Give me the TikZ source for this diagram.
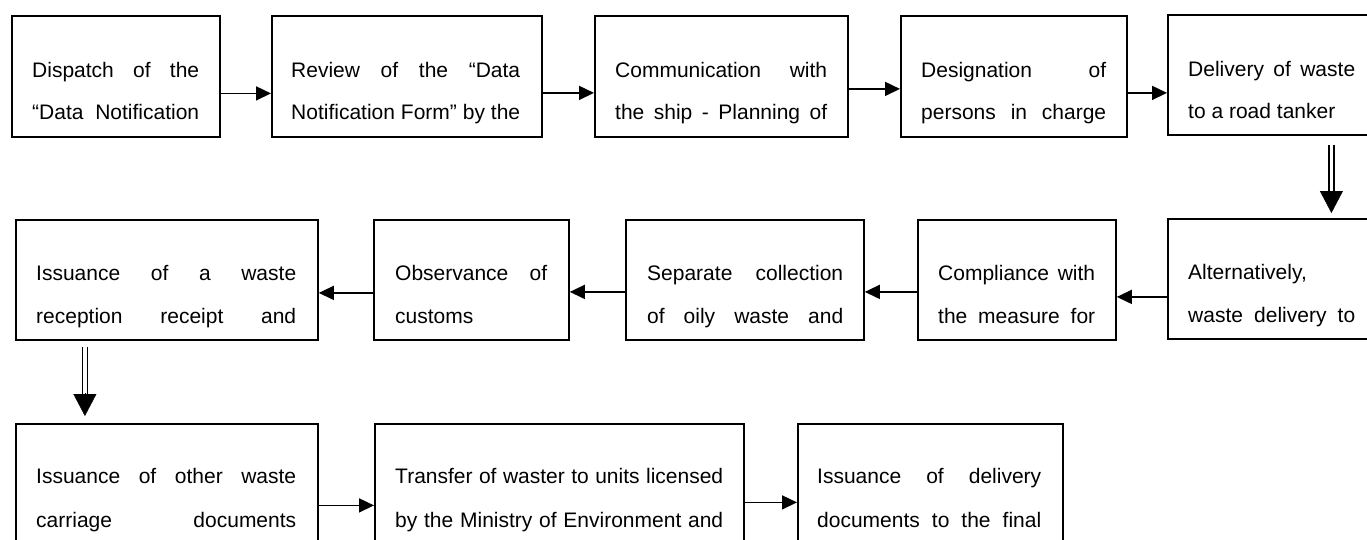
\documentclass[tikz,border=0pt]{standalone}
\usepackage{fontspec}
\setmainfont{Liberation Sans}
\usetikzlibrary{arrows.meta,calc}
\newcommand\jline[2]{\makebox[#1pt][s]{#2}}
\begin{document}
\begin{tikzpicture}[x=1pt,y=-1pt,
  box/.style={draw, line width=1.8pt, rectangle, inner sep=0pt, anchor=north west},
  txt/.style={inner sep=0pt, anchor=base west, font=\fontsize{21}{42}\selectfont},
  arr/.style={line width=1.6pt, -{Triangle[length=15pt,width=14pt]}},
  dshaft/.style={double, double distance=3.6pt, line width=1.3pt},
  dtip/.style={line width=0.4pt, -{Triangle[length=22pt,width=23pt]}}]
\useasboundingbox (0,0) rectangle (1367,539);
\clip (0,0) rectangle (1367,539);
% Row 1
\node[box, minimum width=208pt, minimum height=121pt] (n1) at (11,15) {};
\node[box, minimum width=270pt, minimum height=121pt] (n2) at (271,15) {};
\node[box, minimum width=253pt, minimum height=121pt] (n3) at (594,15) {};
\node[box, minimum width=226pt, minimum height=121pt] (n4) at (900,15) {};
\node[box, minimum width=210pt, minimum height=120pt] (n5) at (1167,14) {};
\node[txt] (t1a) at (32,77) {\jline{167}{Dispatch of the}};
\node[txt] (t1b) at (32,119) {\jline{167}{“Data Notification}};
\node[txt] (t2a) at (291,77) {\jline{229}{Review of the “Data}};
\node[txt] (t2b) at (291,119) {\jline{229}{Notification Form” by the}};
\node[txt] (t3a) at (615,77) {\jline{212}{Communication with}};
\node[txt] (t3b) at (615,119) {\jline{212}{the ship - Planning of}};
\node[txt] (t4a) at (921,77) {\jline{185}{Designation of}};
\node[txt] (t4b) at (921,119) {\jline{185}{persons in charge}};
\node[txt] (t5a) at (1188,76) {\jline{167}{Delivery of waste}};
\node[txt] (t5b) at (1188,118) {to a road tanker};
% Row 2
\node[box, minimum width=210pt, minimum height=120pt] (n6) at (1167,218) {};
\node[box, minimum width=198pt, minimum height=120pt] (n7) at (917,219) {};
\node[box, minimum width=238pt, minimum height=120pt] (n8) at (625,219) {};
\node[box, minimum width=195pt, minimum height=120pt] (n9) at (373,219) {};
\node[box, minimum width=302pt, minimum height=120pt] (n10) at (15,219) {};
\node[txt] (t6a) at (1188,279) {Alternatively,};
\node[txt] (t6b) at (1188,322) {\jline{167}{waste delivery to}};
\node[txt] (t7a) at (938,280) {\jline{157}{Compliance with}};
\node[txt] (t7b) at (938,323) {\jline{157}{the measure for}};
\node[txt] (t8a) at (647,280) {\jline{196}{Separate collection}};
\node[txt] (t8b) at (647,323) {\jline{196}{of oily waste and}};
\node[txt] (t9a) at (395,280) {\jline{152}{Observance of}};
\node[txt] (t9b) at (395,323) {customs};
\node[txt] (t10a) at (36,280) {\jline{260}{Issuance of a waste}};
\node[txt] (t10b) at (36,323) {\jline{260}{reception receipt and}};
% Row 3
\node[box, minimum width=302pt, minimum height=125pt] (n11) at (15,423) {};
\node[box, minimum width=369pt, minimum height=125pt] (n12) at (374,423) {};
\node[box, minimum width=265pt, minimum height=125pt] (n13) at (797,423) {};
\node[txt] (t11a) at (36,483) {\jline{260}{Issuance of other waste}};
\node[txt] (t11b) at (36,527) {\jline{260}{carriage documents}};
\node[txt] (t12a) at (395,483) {\jline{328}{Transfer of waster to units licensed}};
\node[txt] (t12b) at (395,527) {\jline{328}{by the Ministry of Environment and}};
\node[txt] (t13a) at (817,483) {\jline{224}{Issuance of delivery}};
\node[txt] (t13b) at (817,527) {\jline{224}{documents to the final}};
% Row 1 arrows
\path ([yshift=-17pt]n1.east) coordinate (a1);
\draw[arr] (a1) -- (a1 -| n2.west);
\path ([yshift=-16.5pt]n2.east) coordinate (a2);
\draw[arr] (a2) -- (a2 -| n3.west);
\path ([yshift=-12.5pt]n3.east) coordinate (a3);
\draw[arr] (a3) -- (a3 -| n4.west);
\path ([yshift=-16.5pt]n4.east) coordinate (a4);
\draw[arr] (a4) -- (a4 -| n5.west);
% double arrow n5 -> n6
\path ([xshift=58.5pt,yshift=-9pt]n5.south) coordinate (d1a);
\path ([xshift=58.5pt,yshift=5pt]n6.north) coordinate (d1b);
\draw[dshaft] (d1a) -- ([yshift=21pt]d1b);
\draw[dtip] ([yshift=22pt]d1b) -- (d1b);
% Row 2 arrows
\path ([yshift=-18pt]n6.west) coordinate (a6);
\draw[arr] (a6) -- (a6 -| n7.east);
\path ([yshift=-12pt]n7.west) coordinate (a7);
\draw[arr] (a7) -- (a7 -| n8.east);
\path ([yshift=-12pt]n8.west) coordinate (a8);
\draw[arr] (a8) -- (a8 -| n9.east);
\path ([yshift=-13pt]n9.west) coordinate (a9);
\draw[arr] (a9) -- (a9 -| n10.east);
% double arrow n10 -> n11
\path ([xshift=-82pt,yshift=-6pt]n10.south) coordinate (d2a);
\path ([xshift=-82pt,yshift=7pt]n11.north) coordinate (d2b);
\draw[dshaft] (d2a) -- ([yshift=22pt]d2b);
\draw[dtip] ([yshift=23pt]d2b) -- (d2b);
% Row 3 arrows
\path ([yshift=-19pt]n11.east) coordinate (a11);
\draw[arr] (a11) -- (a11 -| n12.west);
\path ([yshift=-16pt]n12.east) coordinate (a12);
\draw[arr] (a12) -- (a12 -| n13.west);
\end{tikzpicture}
\end{document}
